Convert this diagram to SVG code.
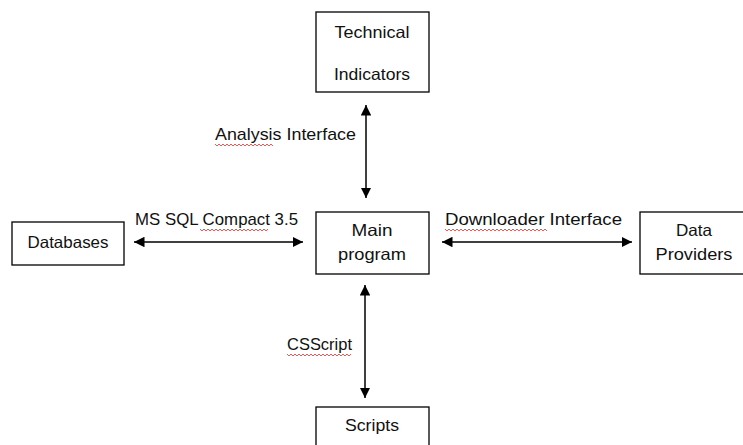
<svg xmlns="http://www.w3.org/2000/svg" width="743" height="445" viewBox="0 0 743 445">
<style>
.box{fill:#fff;stroke:#000;stroke-width:1.3}
.t{font-family:"Liberation Sans",Arial,sans-serif;font-size:16.5px;fill:#111;text-anchor:middle}
.l{font-family:"Liberation Sans",Arial,sans-serif;font-size:17px;fill:#111}
.c{stroke:#000;stroke-width:1.5;fill:none;marker-start:url(#a);marker-end:url(#a)}
.sq{stroke:#e03030;stroke-width:0.8;fill:none}
</style>
<defs>
<marker id="a" viewBox="0 0 10 10" refX="10" refY="5" markerWidth="7" markerHeight="7" orient="auto-start-reverse" markerUnits="strokeWidth">
<path d="M0,0 L10,5 L0,10 z" fill="#000"/>
</marker>
</defs>
<rect width="743" height="445" fill="#fff"/>
<g id="technical-indicators">
<rect class="box" x="316" y="12" width="113" height="80"/>
<text class="t" x="372" y="38" textLength="75" lengthAdjust="spacingAndGlyphs">Technical</text>
<text class="t" x="372" y="80" textLength="76" lengthAdjust="spacingAndGlyphs">Indicators</text>
</g>
<g id="databases">
<rect class="box" x="12" y="222" width="112" height="43"/>
<text class="t" x="68" y="248" textLength="81" lengthAdjust="spacingAndGlyphs">Databases</text>
</g>
<g id="main-program">
<rect class="box" x="316" y="212" width="113" height="62"/>
<text class="t" x="372" y="236" textLength="41" lengthAdjust="spacingAndGlyphs">Main</text>
<text class="t" x="372" y="260" textLength="68" lengthAdjust="spacingAndGlyphs">program</text>
</g>
<g id="data-providers">
<rect class="box" x="640" y="212" width="110" height="62"/>
<text class="t" x="694" y="236" textLength="36" lengthAdjust="spacingAndGlyphs">Data</text>
<text class="t" x="694" y="260" textLength="77" lengthAdjust="spacingAndGlyphs">Providers</text>
</g>
<g id="scripts">
<rect class="box" x="316" y="407" width="113" height="50"/>
<text class="t" x="372" y="431" textLength="54" lengthAdjust="spacingAndGlyphs">Scripts</text>
</g>
<g id="connectors">
<line class="c" x1="366" y1="105" x2="366" y2="198"/>
<line class="c" x1="134" y1="242" x2="303" y2="242"/>
<line class="c" x1="442" y1="242" x2="632" y2="242"/>
<line class="c" x1="365" y1="285" x2="365" y2="398"/>
</g>
<g id="labels">
<text class="l" x="215" y="140" textLength="141" lengthAdjust="spacingAndGlyphs">Analysis Interface</text>
<text class="l" x="135" y="225" textLength="163" lengthAdjust="spacingAndGlyphs">MS SQL Compact 3.5</text>
<text class="l" x="445" y="225" textLength="177" lengthAdjust="spacingAndGlyphs">Downloader Interface</text>
<text class="l" x="287" y="350" textLength="65" lengthAdjust="spacingAndGlyphs">CSScript</text>
<path class="sq" d="M215,144 l2,2 l2,-2 l2,2 l2,-2 l2,2 l2,-2 l2,2 l2,-2 l2,2 l2,-2 l2,2 l2,-2 l2,2 l2,-2 l2,2 l2,-2 l2,2 l2,-2 l2,2 l2,-2 l2,2 l2,-2 l2,2 l2,-2 l2,2 l2,-2 l2,2 l2,-2 l2,2"/>
<path class="sq" d="M200,229 l2,2 l2,-2 l2,2 l2,-2 l2,2 l2,-2 l2,2 l2,-2 l2,2 l2,-2 l2,2 l2,-2 l2,2 l2,-2 l2,2 l2,-2 l2,2 l2,-2 l2,2 l2,-2 l2,2 l2,-2 l2,2 l2,-2 l2,2 l2,-2 l2,2 l2,-2 l2,2 l2,-2 l2,2 l2,-2 l2,2 l2,-2"/>
<path class="sq" d="M445,229 l2,2 l2,-2 l2,2 l2,-2 l2,2 l2,-2 l2,2 l2,-2 l2,2 l2,-2 l2,2 l2,-2 l2,2 l2,-2 l2,2 l2,-2 l2,2 l2,-2 l2,2 l2,-2 l2,2 l2,-2 l2,2 l2,-2 l2,2 l2,-2 l2,2 l2,-2 l2,2 l2,-2 l2,2 l2,-2 l2,2 l2,-2 l2,2 l2,-2 l2,2 l2,-2 l2,2 l2,-2 l2,2 l2,-2 l2,2 l2,-2 l2,2 l2,-2 l2,2 l2,-2 l2,2 l2,-2 l2,2"/>
<path class="sq" d="M287,354 l2,2 l2,-2 l2,2 l2,-2 l2,2 l2,-2 l2,2 l2,-2 l2,2 l2,-2 l2,2 l2,-2 l2,2 l2,-2 l2,2 l2,-2 l2,2 l2,-2 l2,2 l2,-2 l2,2 l2,-2 l2,2 l2,-2 l2,2 l2,-2 l2,2 l2,-2 l2,2 l2,-2 l2,2 l2,-2"/>
</g>
</svg>
